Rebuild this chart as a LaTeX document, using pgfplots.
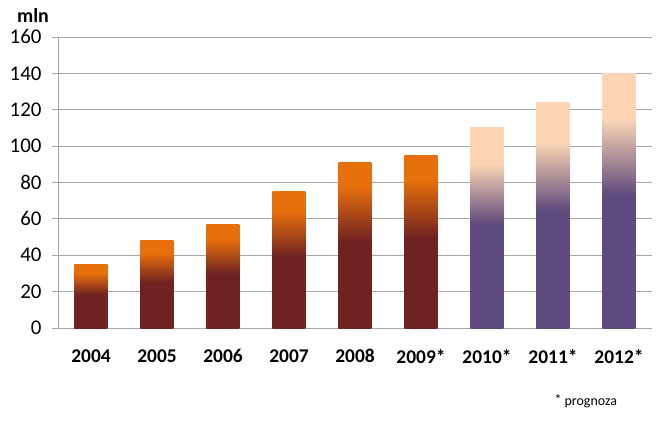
\documentclass[border=0pt]{standalone}
\usepackage{pgfplots}
\pgfplotsset{compat=1.18}
\usepackage{fontspec}
\setmainfont{Carlito}
\definecolor{cbrown}{HTML}{6E2222}
\definecolor{corange}{HTML}{E8700C}
\definecolor{cpurple}{HTML}{5E4A7C}
\definecolor{cpeach}{HTML}{FBD4B4}
\definecolor{cgrid}{HTML}{A6A6A6}
\pgfdeclareverticalshading{hist}{100bp}{color(0bp)=(cbrown); color(51bp)=(cbrown); color(68bp)=(corange); color(100bp)=(corange)}
\pgfdeclareverticalshading{fore}{100bp}{color(0bp)=(cpurple); color(51bp)=(cpurple); color(66bp)=(cpeach); color(100bp)=(cpeach)}
\begin{document}
\begin{tikzpicture}
\begin{axis}[
  scale only axis,
  width=594bp, height=291bp,
  xmin=-0.5, xmax=8.5,
  ymin=0, ymax=160,
  ytick={0,20,...,160},
  xtick={0,...,8},
  xticklabels={2004,2005,2006,2007,2008,2009*,2010*,2011*,2012*},
  minor xtick={-0.5,0.5,...,8.5},
  axis x line*=bottom, axis y line*=left,
  axis line style={cgrid, line width=0.8bp},
  ymajorgrids, grid style={cgrid, line width=0.8bp},
  tick align=outside,
  major tick length=6bp, minor tick length=7bp,
  xtick style={draw=none},
  ytick style={cgrid, line width=0.8bp},
  minor x tick style={cgrid, line width=0.8bp},
  /pgf/number format/assume math mode=true,
  yticklabel style={font=\fontsize{21}{24}\selectfont, xshift=-7bp},
  xticklabel style={font=\fontsize{19.5}{24}\selectfont\bfseries, yshift=-12bp},
  every axis plot/.append style={ybar, bar width=33bp, bar shift=0pt, draw=none},
  clip=false,
]
\addplot[shading=hist] coordinates {(0,35)};
\addplot[shading=hist] coordinates {(1,48)};
\addplot[shading=hist] coordinates {(2,57)};
\addplot[shading=hist] coordinates {(3,75)};
\addplot[shading=hist] coordinates {(4,91)};
\addplot[shading=hist] coordinates {(5,95)};
\addplot[shading=fore] coordinates {(6,110)};
\addplot[shading=fore] coordinates {(7,124)};
\addplot[shading=fore] coordinates {(8,140)};
\coordinate (O) at (rel axis cs:0,0);
\coordinate (T) at (rel axis cs:0,1);
\end{axis}
\node[font=\fontsize{20}{24}\selectfont\bfseries, anchor=base] at ([xshift=-25bp, yshift=14bp]T) {mln};
\node[font=\fontsize{14}{16}\selectfont, anchor=base west] at ([xshift=493bp, yshift=-77bp]O) {\raisebox{1bp}{*} prognoza};
\path (O) ++(-58bp,-94bp) rectangle ++(664bp,422bp);
\end{tikzpicture}
\end{document}
